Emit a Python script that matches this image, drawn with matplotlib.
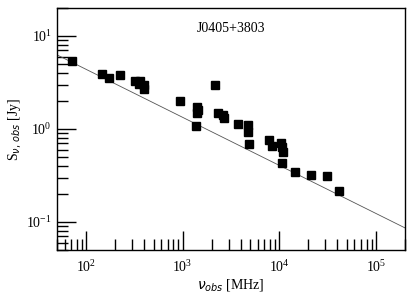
import numpy as np
import matplotlib.pyplot as plt

plt.rcParams['font.family'] = ['Liberation Serif', 'DejaVu Serif']
plt.rcParams['mathtext.fontset'] = 'dejavusans'

# observed frequencies [MHz] and flux densities [Jy]
freq = [72, 147, 174, 226, 318, 360, 352, 396, 403,
        937, 1393, 1405, 1450, 1371, 2173, 2312, 2630, 2700,
        3776, 4789, 4800, 4900, 7770, 8330, 10500, 10600, 10900, 10570,
        14600, 21200, 30800, 41900]
flux = [5.4, 3.89, 3.53, 3.76, 3.25, 3.31, 3.04, 2.94, 2.69,
        2.02, 1.71, 1.49, 1.58, 1.07, 2.99, 1.49, 1.42, 1.32,
        1.14, 1.11, 0.92, 0.695, 0.753, 0.655, 0.705, 0.64, 0.565, 0.43,
        0.345, 0.318, 0.313, 0.216]

# power-law fit S = S0 * (nu/nu0)^alpha
S0 = 6.27
nu0 = 50.0
alpha = -0.517

fig = plt.figure(figsize=(4.15, 2.95), dpi=100)
ax = fig.add_axes([0.137, 0.153, 0.839, 0.82])

nu_fit = np.logspace(np.log10(50), np.log10(2e5), 200)
ax.plot(nu_fit, S0 * (nu_fit / nu0) ** alpha, color='#555555', lw=0.6)
ax.plot(freq, flux, 's', color='black', ms=6)

ax.set_xscale('log')
ax.set_yscale('log')
ax.set_xlim(50, 2e5)
ax.set_ylim(0.05, 20)

ax.tick_params(which='both', direction='in', top=False, right=False, labelsize=10)
ax.tick_params(which='major', length=14, width=1)
ax.tick_params(which='minor', length=8, width=1)
ax.tick_params(axis='x', which='both', pad=7)
for s in ax.spines.values():
    s.set_linewidth(1)

ax.set_xlabel(r'$\nu_{obs}$ [MHz]', fontsize=10, labelpad=1)
ax.set_ylabel(r'S$_{\nu,\,obs}$ [Jy]', fontsize=10, labelpad=2)
ax.text(0.5, 0.915, 'J0405+3803', transform=ax.transAxes, ha='center', va='center', fontsize=10)

fig.savefig('out.png', dpi=100)
